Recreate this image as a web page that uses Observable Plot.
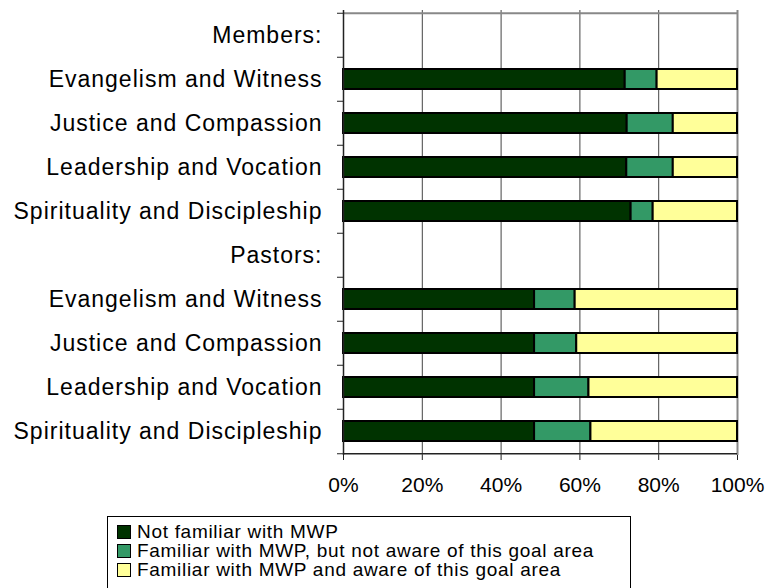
<!DOCTYPE html>
<html>
<head>
<meta charset="utf-8">
<script src="https://cdn.jsdelivr.net/npm/d3@7"></script>
<script src="https://cdn.jsdelivr.net/npm/@observablehq/plot@0.6"></script>
<style>
  html, body { margin: 0; padding: 0; background: #fff; }
  body { width: 777px; height: 588px; overflow: hidden; position: relative; font-family: "Liberation Sans", Arial, sans-serif; }
  #chart { position: absolute; left: 0; top: 0; }
  .ylab text { letter-spacing: 1px; }
  #legend { position: absolute; left: 107px; top: 516px; width: 524px; height: 80px; box-sizing: border-box;
            border: 1px solid #000; padding-top: 5px; font-size: 19px; line-height: 19px; letter-spacing: 0.7px; color: #000; }
  .item { display: flex; align-items: center; height: 19px; padding-left: 9px; white-space: nowrap; }
  .sw { width: 12px; height: 12px; border: 1px solid #000; margin-right: 6px; flex: none; }
</style>
</head>
<body>
<div id="chart"></div>
<div id="legend"></div>
<script>
// ---- data ----
const groups = ["Members:", "Pastors:"];
const goals = ["Evangelism and Witness", "Justice and Compassion", "Leadership and Vocation", "Spirituality and Discipleship"];
const seriesNames = [
  "Not familiar with MWP",
  "Familiar with MWP, but not aware of this goal area",
  "Familiar with MWP and aware of this goal area"
];
const seriesColors = ["#003300", "#339966", "#FFFF99"];
// percentages, in goal order
const membersNotFamiliar   = [71.5, 72.0, 71.9, 73.0];
const membersNotAware      = [8.1, 11.7, 11.8, 5.6];
const membersAware         = [20.4, 16.3, 16.3, 21.4];
const pastorsNotFamiliar   = [48.5, 48.5, 48.5, 48.5];
const pastorsNotAware      = [10.3, 10.7, 13.8, 14.3];
const pastorsAware         = [41.2, 40.8, 37.7, 37.2];
const xTicks = [0, 20, 40, 60, 80, 100];

// ---- build table ----
const groupSeries = [
  [membersNotFamiliar, membersNotAware, membersAware],
  [pastorsNotFamiliar, pastorsNotAware, pastorsAware]
];
const rows = [];
const table = [];
groups.forEach((g, gi) => {
  rows.push(g);
  goals.forEach((goal, j) => {
    const key = g + "|" + goal;
    rows.push(key);
    seriesNames.forEach((s, si) => table.push({row: key, series: s, value: groupSeries[gi][si][j]}));
  });
});
const label = d => d.split("|").pop();

// ---- layout ----
const W = 777, H = 510, mt = 10, mb = 55, ml = 343, mr = 40;
const step = (H - mt - mb) / rows.length;

const chart = Plot.plot({
  width: W, height: H,
  marginTop: mt, marginBottom: mb, marginLeft: ml, marginRight: mr,
  style: {fontFamily: "'Liberation Sans', Arial, sans-serif", background: "#fff", overflow: "visible"},
  x: {domain: [0, 100], label: null},
  y: {domain: rows, paddingInner: 0.55, paddingOuter: 0.275, label: null},
  color: {domain: seriesNames, range: seriesColors},
  marks: [
    Plot.ruleX(xTicks.slice(1, -1), {stroke: "#444", strokeWidth: 1}),
    Plot.ruleX([100], {stroke: "#888", strokeWidth: 2}),
    Plot.ruleY([rows[0]], {dy: -step / 2, stroke: "#888", strokeWidth: 2}),
    Plot.barX(table, Plot.stackX({y: "row", x: "value", fill: "series", stroke: "#000", strokeWidth: 2})),
    Plot.ruleX([0], {stroke: "#222", strokeWidth: 1.5}),
    Plot.ruleY([rows[rows.length - 1]], {dy: step / 2, stroke: "#222", strokeWidth: 1.5}),
    Plot.axisY({tickSize: 0, tickPadding: 21, tickFormat: label, fontSize: 23, className: "ylab", fill: "#000"}),
    Plot.axisY({tickSize: 6, tickFormat: () => "", dy: -step / 2, stroke: "#222"}),
    Plot.axisY({ticks: [rows[rows.length - 1]], tickSize: 6, tickFormat: () => "", dy: step / 2, stroke: "#222"}),
    Plot.axisX({ticks: xTicks, tickSize: 5, tickPadding: 17, tickFormat: d => d + "%", fontSize: 21, stroke: "#222", fill: "#000"})
  ]
});
document.getElementById("chart").appendChild(chart);

// ---- legend ----
const legend = document.getElementById("legend");
seriesNames.forEach((s, i) => {
  const item = document.createElement("div");
  item.className = "item";
  const sw = document.createElement("span");
  sw.className = "sw";
  sw.style.background = seriesColors[i];
  const t = document.createElement("span");
  t.textContent = s;
  item.appendChild(sw);
  item.appendChild(t);
  legend.appendChild(item);
});
</script>
</body>
</html>
